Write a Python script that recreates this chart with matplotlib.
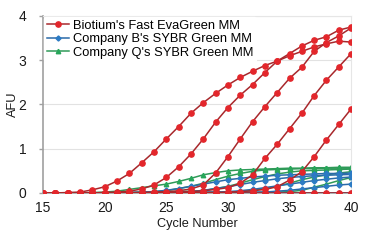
import matplotlib
matplotlib.use("Agg")
import matplotlib.pyplot as plt
import numpy as np

plt.rcParams['font.family'] = ['Liberation Sans Narrow', 'Liberation Sans', 'DejaVu Sans']

cycles = list(range(15, 41))

# Biotium's Fast EvaGreen MM (red) - values for cycles 15..40
red_a = [0, 0, 0.01, 0.02, 0.07, 0.14, 0.27, 0.44, 0.68, 0.93, 1.22, 1.50, 1.80, 2.04,
         2.25, 2.44, 2.61, 2.75, 2.88, 2.98, 3.10, 3.20, 3.30, 3.37, 3.43, 3.41]
red_b = [0, 0, 0, 0, 0, 0.01, 0.02, 0.04, 0.09, 0.18, 0.35, 0.59, 0.88, 1.22,
         1.60, 1.93, 2.21, 2.45, 2.72, 2.98, 3.15, 3.32, 3.45, 3.53, 3.68, 3.75]
red_c = [0, 0, 0, 0, 0, 0, 0, 0.01, 0.01, 0.02, 0.03, 0.05, 0.09, 0.18,
         0.45, 0.82, 1.22, 1.61, 1.95, 2.27, 2.59, 2.84, 3.20, 3.40, 3.55, 3.73]
red_d = [0, 0, 0, 0, 0, 0, 0, 0, 0, 0.01, 0.01, 0.02, 0.03, 0.05,
         0.08, 0.12, 0.22, 0.41, 0.78, 1.10, 1.45, 1.80, 2.20, 2.55, 2.85, 3.15]
red_e = [0, 0, 0, 0, 0, 0, 0, 0, 0, 0, 0, 0, 0, 0.01,
         0.01, 0.02, 0.03, 0.05, 0.08, 0.14, 0.29, 0.48, 0.82, 1.20, 1.55, 1.90]
red_ntc = [0] * 26

# Company B's SYBR Green MM (blue)
blue_a = [0, 0, 0, 0, 0, 0, 0.01, 0.01, 0.02, 0.03, 0.06, 0.10, 0.15, 0.20,
          0.25, 0.30, 0.33, 0.36, 0.38, 0.40, 0.41, 0.42, 0.43, 0.44, 0.44, 0.45]
blue_b = [0, 0, 0, 0, 0, 0, 0, 0, 0, 0.01, 0.01, 0.02, 0.03, 0.06,
          0.10, 0.14, 0.19, 0.24, 0.28, 0.32, 0.35, 0.37, 0.39, 0.40, 0.41, 0.42]
blue_c = [0, 0, 0, 0, 0, 0, 0, 0, 0, 0, 0, 0.01, 0.01, 0.02,
          0.02, 0.03, 0.05, 0.08, 0.12, 0.16, 0.20, 0.24, 0.28, 0.31, 0.34, 0.36]
blue_d = [0, 0, 0, 0, 0, 0, 0, 0, 0, 0, 0, 0, 0, 0,
          0.01, 0.01, 0.01, 0.02, 0.02, 0.04, 0.06, 0.09, 0.12, 0.15, 0.18, 0.20]
blue_ntc = [0] * 26

# Company Q's SYBR Green MM (green)
green_a = [0, 0, 0, 0, 0.01, 0.02, 0.04, 0.08, 0.12, 0.16, 0.20, 0.26, 0.33, 0.41,
           0.46, 0.50, 0.52, 0.53, 0.54, 0.55, 0.56, 0.56, 0.57, 0.57, 0.58, 0.58]
green_b = [0, 0, 0, 0, 0, 0, 0.01, 0.01, 0.02, 0.03, 0.05, 0.10, 0.15, 0.22,
           0.30, 0.38, 0.44, 0.49, 0.52, 0.53, 0.54, 0.55, 0.55, 0.56, 0.56, 0.56]
green_c = [0, 0, 0, 0, 0, 0, 0, 0, 0.01, 0.01, 0.02, 0.03, 0.04, 0.05,
           0.10, 0.15, 0.22, 0.30, 0.37, 0.43, 0.47, 0.50, 0.51, 0.52, 0.53, 0.54]
green_d = [0, 0, 0, 0, 0, 0, 0, 0, 0, 0, 0, 0.01, 0.01, 0.01,
           0.02, 0.02, 0.03, 0.06, 0.10, 0.15, 0.22, 0.30, 0.36, 0.41, 0.45, 0.48]
green_e = [0, 0, 0, 0, 0, 0, 0, 0, 0, 0, 0, 0, 0, 0,
           0, 0.01, 0.01, 0.01, 0.02, 0.02, 0.03, 0.06, 0.13, 0.20, 0.28, 0.35]

series = [
    ("Biotium's Fast EvaGreen MM", [red_a, red_b, red_c, red_d, red_e, red_ntc],
     "#a8282c", "#e3262b", "o", 3.8, 4),
    ("Company B's SYBR Green MM", [blue_a, blue_b, blue_c, blue_d, blue_ntc],
     "#2a6aa8", "#2c7bc4", "D", 2.6, 3),
    ("Company Q's SYBR Green MM", [green_a, green_b, green_c, green_d, green_e],
     "#2f9a58", "#27a65a", "^", 3.2, 2),
]

fig = plt.figure(figsize=(3.65, 2.4), dpi=100)
ax = fig.add_axes([0.118, 0.196, 0.844, 0.7375])

handles = []
for label, curves, lc, mc, mk, ms, z in series:
    for i, y in enumerate(curves):
        ln, = ax.plot(cycles, y, color=lc, lw=1.1, marker=mk, ms=ms,
                      mfc=mc, mec=mc, zorder=z,
                      label=label if i == 0 else None)
        if i == 0:
            handles.append(ln)

ax.set_xlim(15, 40)
ax.set_ylim(0, 4)
ax.set_xticks([15, 20, 25, 30, 35, 40])
ax.set_yticks([0, 1, 2, 3, 4])
ax.grid(axis='y', color='#e2e2e2', lw=0.8)
ax.set_axisbelow(True)
for s in ['top', 'right']:
    ax.spines[s].set_color('#e6e6e6')
    ax.spines[s].set_linewidth(0.8)
ax.spines['left'].set_color('#a0a0a0')
ax.spines['bottom'].set_color('#a0a0a0')
ax.spines['left'].set_linewidth(1.2)
ax.spines['bottom'].set_linewidth(1.2)
ax.tick_params(axis='both', labelsize=10, colors='#a0a0a0', labelcolor='#1a1a1a',
               length=3, width=1)
ax.tick_params(axis='y', pad=9)
ax.tick_params(axis='x', length=0, pad=6)
ax.set_xlabel("Cycle Number", fontsize=9.2, color='#1a1a1a', labelpad=2)
ax.set_ylabel("AFU", fontsize=9.2, color='#1a1a1a', labelpad=0)

leg = ax.legend(handles=handles, loc='upper left', fontsize=9.3, frameon=True,
                facecolor='white', edgecolor='white', framealpha=1,
                handlelength=1.7, handletextpad=0.3, borderpad=0.25,
                labelspacing=0.1, borderaxespad=0.05)
leg.set_zorder(10)

fig.savefig("out.png", dpi=100)
